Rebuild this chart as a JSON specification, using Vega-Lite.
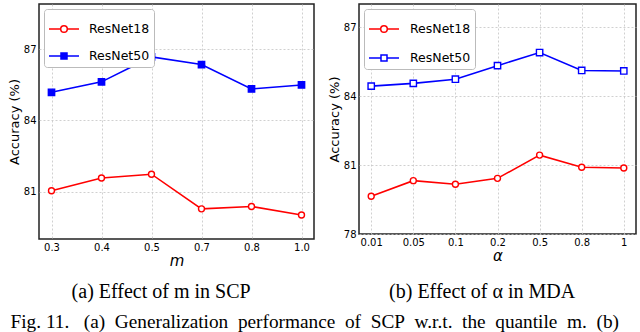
{
  "$schema": "https://vega.github.io/schema/vega-lite/v6.json",
  "padding": {"left": 7, "top": 3, "right": 0, "bottom": 0},
  "datasets": {
    "scp": [
      {"m": "0.3", "model": "ResNet18", "acc": 81.03},
      {"m": "0.4", "model": "ResNet18", "acc": 81.57},
      {"m": "0.5", "model": "ResNet18", "acc": 81.73},
      {"m": "0.7", "model": "ResNet18", "acc": 80.27},
      {"m": "0.8", "model": "ResNet18", "acc": 80.37},
      {"m": "1.0", "model": "ResNet18", "acc": 80.01},
      {"m": "0.3", "model": "ResNet50", "acc": 85.18},
      {"m": "0.4", "model": "ResNet50", "acc": 85.62},
      {"m": "0.5", "model": "ResNet50", "acc": 86.67},
      {"m": "0.7", "model": "ResNet50", "acc": 86.35},
      {"m": "0.8", "model": "ResNet50", "acc": 85.32},
      {"m": "1.0", "model": "ResNet50", "acc": 85.49}
    ],
    "mda": [
      {"a": "0.01", "model": "ResNet18", "acc": 79.64},
      {"a": "0.05", "model": "ResNet18", "acc": 80.32},
      {"a": "0.1", "model": "ResNet18", "acc": 80.16},
      {"a": "0.2", "model": "ResNet18", "acc": 80.42},
      {"a": "0.5", "model": "ResNet18", "acc": 81.43},
      {"a": "0.8", "model": "ResNet18", "acc": 80.9},
      {"a": "1", "model": "ResNet18", "acc": 80.87},
      {"a": "0.01", "model": "ResNet50", "acc": 84.43},
      {"a": "0.05", "model": "ResNet50", "acc": 84.55},
      {"a": "0.1", "model": "ResNet50", "acc": 84.73},
      {"a": "0.2", "model": "ResNet50", "acc": 85.32},
      {"a": "0.5", "model": "ResNet50", "acc": 85.89},
      {"a": "0.8", "model": "ResNet50", "acc": 85.11},
      {"a": "1", "model": "ResNet50", "acc": 85.09}
    ]
  },
  "title": {
    "text": "Fig. 11.\u00a0\u00a0\u00a0(a)\u00a0\u00a0Generalization\u00a0\u00a0performance\u00a0\u00a0of\u00a0\u00a0SCP\u00a0\u00a0w.r.t.\u00a0\u00a0the\u00a0\u00a0quantile\u00a0\u00a0m.\u00a0\u00a0(b)",
    "orient": "bottom", "anchor": "start", "frame": "bounds",
    "font": "Liberation Serif", "fontSize": 19.3, "fontWeight": "normal", "color": "#000", "offset": 10, "dx": 3
  },
  "spacing": 12,
  "hconcat": [
    {
      "width": 275,
      "height": 235,
      "data": {"name": "scp"},
      "title": {"text": "(a) Effect of m in SCP", "orient": "bottom", "frame": "bounds", "anchor": "middle", "font": "Liberation Serif", "fontSize": 20, "fontWeight": "normal", "color": "#000", "offset": 14},
      "encoding": {
        "x": {"field": "m", "type": "ordinal", "sort": null, "scale": {"type": "point", "padding": 0.25},
              "axis": {"title": "m", "labelAngle": 0, "grid": true, "titleFontStyle": "italic", "titleFontSize": 15, "titlePadding": 1}},
        "y": {"field": "acc", "type": "quantitative", "scale": {"domain": [79, 88.9], "nice": false, "zero": false},
              "axis": {"values": [81, 84, 87], "title": "Accuracy (%)"}},
        "color": {"field": "model", "type": "nominal", "scale": {"domain": ["ResNet18", "ResNet50"], "range": ["#ff0000", "#0000ff"]},
          "legend": {
            "orient": "top-left", "offset": 5, "title": null, "padding": 4, "rowPadding": 4, "labelOffset": 9,
            "encode": {"symbols": {"update": {"strokeWidth": {"value": 1.5}, "opacity": {"value": 1}}}}
          }
        }
      },
      "layer": [
        {"mark": {"type": "line", "strokeWidth": 1.6}},
        {"transform": [{"filter": "datum.model === 'ResNet18'"}],
         "mark": {"type": "point", "shape": "circle", "filled": false, "fill": "#ffffff", "opacity": 1, "strokeWidth": 1.4, "size": 36}},
        {"transform": [{"filter": "datum.model === 'ResNet50'"}],
         "mark": {"type": "point", "shape": "square", "filled": false, "fill": "#0000ff", "opacity": 1, "strokeWidth": 1.4, "size": 40}},
        {"transform": [{"filter": "false"}],
         "mark": {"type": "point", "filled": false, "opacity": 1},
         "encoding": {
           "shape": {"field": "model", "type": "nominal", "scale": {"domain": ["ResNet18", "ResNet50"], "range": ["M-1,0L-0.22,0M0.22,0L1,0M0.22,0A0.22,0.22,0,1,1,-0.22,0A0.22,0.22,0,1,1,0.22,0", "M-1,0L1,0M-0.2,-0.2L0.2,-0.2L0.2,0.2L-0.2,0.2ZM-0.1,-0.1L0.1,-0.1L0.1,0.1L-0.1,0.1ZM-0.03,-0.03L0.03,-0.03L0.03,0.03L-0.03,0.03Z"]}}
         }}
      ]
    },
    {
      "width": 277,
      "height": 230,
      "data": {"name": "mda"},
      "title": {"text": "(b) Effect of α in MDA", "orient": "bottom", "frame": "bounds", "anchor": "middle", "font": "Liberation Serif", "fontSize": 20, "fontWeight": "normal", "color": "#000", "offset": 19},
      "encoding": {
        "x": {"field": "a", "type": "ordinal", "sort": null, "scale": {"type": "point", "padding": 0.29},
              "axis": {"title": "α", "labelAngle": 0, "grid": true, "titleFontStyle": "italic", "titleFontSize": 15, "titlePadding": 1}},
        "y": {"field": "acc", "type": "quantitative", "scale": {"domain": [78, 88], "nice": false, "zero": false},
              "axis": {"values": [78, 81, 84, 87], "title": "Accuracy (%)"}},
        "color": {"field": "model", "type": "nominal", "scale": {"domain": ["ResNet18", "ResNet50"], "range": ["#ff0000", "#0000ff"]},
          "legend": {
            "orient": "top-left", "offset": 5, "title": null, "padding": 4, "rowPadding": 6, "labelOffset": 10,
            "encode": {"symbols": {"update": {"strokeWidth": {"value": 1.5}, "opacity": {"value": 1}}}}
          }
        }
      },
      "layer": [
        {"mark": {"type": "line", "strokeWidth": 1.6}},
        {"transform": [{"filter": "datum.model === 'ResNet18'"}],
         "mark": {"type": "point", "shape": "circle", "filled": false, "fill": "#ffffff", "opacity": 1, "strokeWidth": 1.4, "size": 36}},
        {"transform": [{"filter": "datum.model === 'ResNet50'"}],
         "mark": {"type": "point", "shape": "square", "filled": false, "fill": "#ffffff", "opacity": 1, "strokeWidth": 1.4, "size": 40}},
        {"transform": [{"filter": "false"}],
         "mark": {"type": "point", "filled": false, "opacity": 1},
         "encoding": {
           "shape": {"field": "model", "type": "nominal", "scale": {"domain": ["ResNet18", "ResNet50"], "range": ["M-1,0L-0.22,0M0.22,0L1,0M0.22,0A0.22,0.22,0,1,1,-0.22,0A0.22,0.22,0,1,1,0.22,0", "M-1,0L-0.2,0M0.2,0L1,0M-0.2,-0.2L0.2,-0.2L0.2,0.2L-0.2,0.2Z"]}}
         }}
      ]
    }
  ],
  "resolve": {"scale": {"x": "independent", "y": "independent", "color": "independent", "shape": "independent"}, "legend": {"color": "independent", "shape": "independent"}},
  "config": {
    "view": {"stroke": "#222", "strokeWidth": 1.5},
    "axis": {
      "domain": false, "ticks": false, "grid": true,
      "gridDash": [2, 2], "gridColor": "#c4c4c4", "gridWidth": 0.8,
      "labelFont": "DejaVu Sans", "labelFontSize": 10, "labelColor": "#000", "labelPadding": 3,
      "titleFont": "DejaVu Sans", "titleFontSize": 13, "titleFontWeight": "normal", "titleColor": "#000", "titlePadding": 2
    },
    "legend": {
      "labelFont": "DejaVu Sans", "labelFontSize": 12.5, "labelColor": "#000",
      "strokeColor": "#bbb", "fillColor": "#ffffff", "cornerRadius": 3,
      "symbolSize": 900
    }
  }
}
